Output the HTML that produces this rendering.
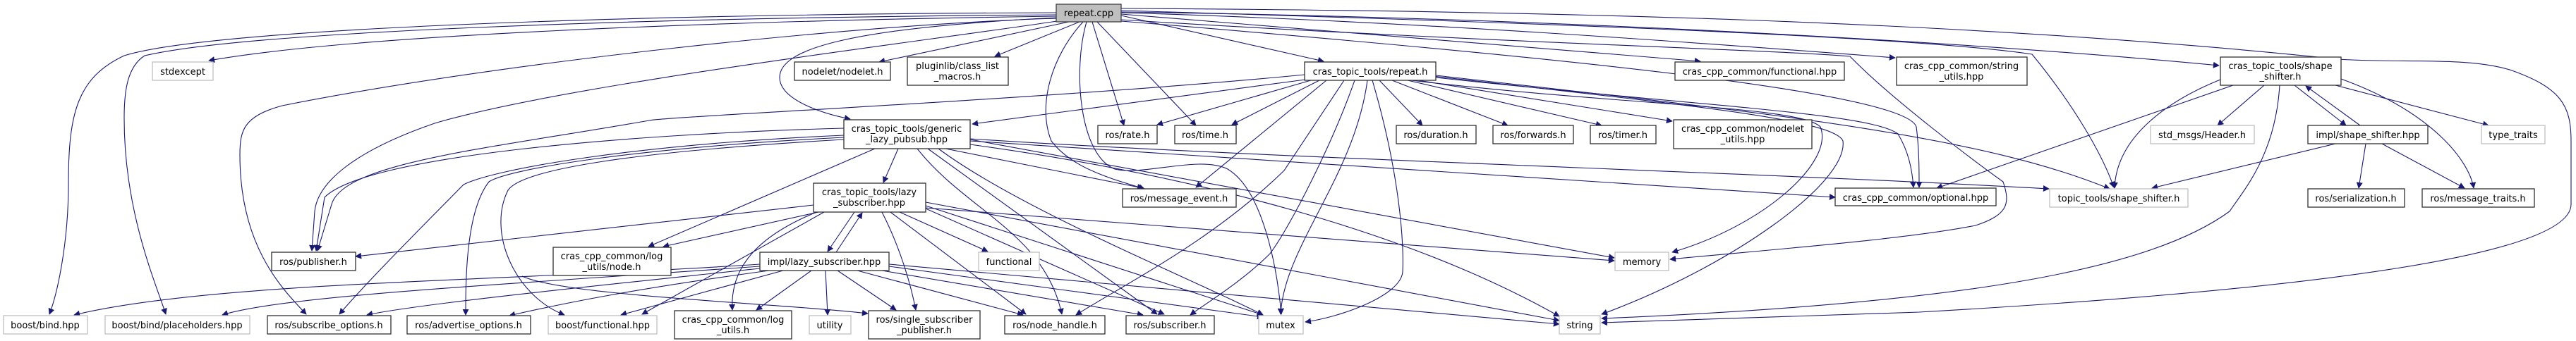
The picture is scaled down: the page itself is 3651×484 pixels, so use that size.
<!DOCTYPE html>
<html><head><meta charset="utf-8"><style>
html,body{margin:0;padding:0;background:#fff;}
svg{display:block;}
text{font-family:"DejaVu Sans","Liberation Sans",sans-serif;font-size:13px;fill:#000;}
.e{fill:none;stroke:#191970;stroke-width:1.1;}
.n{fill:#fff;stroke:#303030;stroke-width:1.3;}
.g{fill:#fff;stroke:#bfbfbf;stroke-width:1.3;}
</style></head><body>
<svg width="3651" height="484" viewBox="0 0 3651 484" xmlns="http://www.w3.org/2000/svg">
<defs><marker id="a" viewBox="0 0 10 10" refX="9" refY="5" markerWidth="9" markerHeight="9" markerUnits="userSpaceOnUse" orient="auto"><path d="M0,0 L10,5 L0,10 z" fill="#191970"/></marker></defs>
<g marker-end="url(#a)">
<!-- repeat.cpp -->
<path class="e" d="M1498,18 C900,20 300,40 176,79 C110,110 97,160 97,260 C97,350 80,420 70,446"/>
<path class="e" d="M1498,21 C900,25 350,45 205,79 C180,95 176,130 176,168 C176,300 220,400 235,446"/>
<path class="e" d="M1498,23 C1000,30 500,50 296,86"/>
<path class="e" d="M1498,26 C1200,35 700,90 400,150 C345,165 340,185 340,220 C340,350 400,410 434,446"/>
<path class="e" d="M1498,30 C1300,60 800,120 616,175 C500,215 450,260 446,300 L442,356"/>
<path class="e" d="M1498,25 C1200,40 1105,70 1105,110 C1105,140 1160,160 1205,169"/>
<path class="e" d="M1515,31 L1246,88"/>
<path class="e" d="M1530,31 L1410,80"/>
<path class="e" d="M1548,31 L1593,178"/>
<path class="e" d="M1555,31 L1695,178"/>
<path class="e" d="M1535,31 C1490,80 1470,150 1490,200 C1520,240 1580,255 1622,268"/>
<path class="e" d="M1540,31 C1520,100 1530,220 1580,240 C1620,250 1700,220 1740,240 C1790,270 1810,380 1816,446"/>
<path class="e" d="M1589,22 L1876,87"/>
<path class="e" d="M1589,20 L2410,87"/>
<path class="e" d="M1589,18 C2000,30 2400,60 2686,82"/>
<path class="e" d="M1589,17 C2200,25 2800,60 3145,93"/>
<path class="e" d="M1589,12 C2200,15 2800,30 3314,84 C3400,90 3500,80 3560,100 C3630,125 3644,150 3644,200 L3644,290 C3644,360 3300,410 2720,443 L2270,458"/>
<path class="e" d="M1589,15 C2100,30 2700,50 2880,77 C2940,150 2980,220 2996,266"/>
<path class="e" d="M1589,28 C2100,60 2500,70 2622,80 C2680,140 2800,230 2839,258 C2850,290 2845,305 2800,320 C2700,340 2500,355 2367,368"/>
<path class="e" d="M1589,30 C2200,80 2700,130 2716,180 C2720,210 2720,240 2720,266"/>
<!-- repeat.h -->
<path class="e" d="M1850,113 L1378,176"/>
<path class="e" d="M1849,106 C1500,140 950,165 920,171 C700,210 487,230 470,290 L450,356"/>
<path class="e" d="M1858,114 L1640,177"/>
<path class="e" d="M1870,114 L1746,177"/>
<path class="e" d="M1880,114 L1695,266"/>
<path class="e" d="M1905,114 L1820,242 C1720,340 1600,400 1525,447"/>
<path class="e" d="M1920,114 C1890,200 1830,320 1800,360 C1760,400 1710,430 1687,447"/>
<path class="e" d="M1938,114 C1920,250 1820,350 1815,446"/>
<path class="e" d="M1945,114 C1985,250 1990,350 1988,386 C1985,420 1900,450 1850,457"/>
<path class="e" d="M1955,114 L2016,178"/>
<path class="e" d="M1973,114 L2137,178"/>
<path class="e" d="M1995,114 L2270,178"/>
<path class="e" d="M2010,114 L2370,172"/>
<path class="e" d="M2000,114 C2300,150 2550,150 2580,180 C2600,230 2500,320 2370,358"/>
<path class="e" d="M2030,108 C2400,150 2600,170 2612,200 C2620,260 2450,380 2270,446"/>
<path class="e" d="M2035,110 C2400,150 2650,160 2690,190 C2705,215 2710,240 2712,266"/>
<path class="e" d="M2035,107 C2500,160 2800,190 2990,268"/>
<!-- generic -->
<path class="e" d="M1273,211 L1252,259"/>
<path class="e" d="M1196,182 C900,190 520,220 460,280 L448,356"/>
<path class="e" d="M1196,192 C900,205 700,240 657,262 C600,320 520,400 481,446"/>
<path class="e" d="M1196,195 C900,210 720,240 693,258 C660,300 660,400 660,447"/>
<path class="e" d="M1196,198 C900,215 740,240 720,270 C690,330 730,420 800,447"/>
<path class="e" d="M1240,211 L919,350"/>
<path class="e" d="M1340,211 L1620,267"/>
<path class="e" d="M1300,211 C1370,300 1480,330 1505,446"/>
<path class="e" d="M1315,211 L1640,446"/>
<path class="e" d="M1330,211 C1450,300 1700,400 1790,447"/>
<path class="e" d="M1375,205 C1700,250 2000,330 2210,449"/>
<path class="e" d="M1375,198 L2288,366"/>
<path class="e" d="M1375,200 L2601,280"/>
<path class="e" d="M1375,197 C1800,225 2500,245 2904,268"/>
<!-- lazy_subscriber -->
<path class="e" d="M1153,291 L504,364"/>
<path class="e" d="M1160,301 L940,350"/>
<path class="e" d="M1211,301 L1173,357"/>
<path class="e" d="M1185,358 L1222,302"/>
<path class="e" d="M1160,300 C1060,340 1035,390 1038,440"/>
<path class="e" d="M1275,301 L1400,357"/>
<path class="e" d="M1250,301 C1275,350 1290,400 1298,440"/>
<path class="e" d="M1262,301 L1454,446"/>
<path class="e" d="M1312,296 L1650,446"/>
<path class="e" d="M1312,292 L1790,447"/>
<path class="e" d="M1312,287 L2210,455"/>
<path class="e" d="M1312,295 L2288,370"/>
<path class="e" d="M1168,301 L910,446"/>
<!-- impl/lazy_subscriber -->
<path class="e" d="M1077,375 C700,400 300,400 105,447"/>
<path class="e" d="M1077,378 C700,405 400,420 315,447"/>
<path class="e" d="M1077,381 C900,400 600,430 520,447"/>
<path class="e" d="M1090,384 C900,410 800,430 722,448"/>
<path class="e" d="M1110,384 L880,447"/>
<path class="e" d="M1150,384 L1072,440"/>
<path class="e" d="M1170,384 L1173,447"/>
<path class="e" d="M1187,384 L1270,440"/>
<path class="e" d="M1215,384 L1450,447"/>
<path class="e" d="M1250,384 L1620,447"/>
<path class="e" d="M1260,378 L1790,450"/>
<path class="e" d="M1260,375 L2210,460"/>
<path class="e" d="M740,392 C800,420 1100,430 1230,445"/>
<!-- shape_shifter.h -->
<path class="e" d="M3165,121 L2745,267"/>
<path class="e" d="M3147,113 C3080,140 3000,190 2997,267"/>
<path class="e" d="M3209,121 L3143,178"/>
<path class="e" d="M3252,121 L3325,178"/>
<path class="e" d="M3345,178 L3268,122"/>
<path class="e" d="M3310,121 L3527,178"/>
<path class="e" d="M3318,112 C3450,160 3500,230 3506,267"/>
<path class="e" d="M3231,121 C3225,220 3180,270 3160,300 C3050,380 2800,430 2270,452"/>
<!-- impl/shape_shifter -->
<path class="e" d="M3310,204 L3050,267"/>
<path class="e" d="M3353,204 L3343,267"/>
<path class="e" d="M3376,204 L3493,267"/>
</g>
<!-- nodes -->
<rect x="1497" y="6" width="92" height="25" fill="#bfbfbf" stroke="#404040" stroke-width="1.3"/>
<text x="1543" y="23" text-anchor="middle">repeat.cpp</text>

<rect class="g" x="216" y="88" width="86" height="26"/><text x="259" y="106" text-anchor="middle">stdexcept</text>
<rect class="n" x="1126" y="88" width="136" height="26"/><text x="1194" y="106" text-anchor="middle">nodelet/nodelet.h</text>
<rect class="n" x="1286" y="81" width="143" height="40"/><text x="1357" y="98" text-anchor="middle">pluginlib/class_list</text><text x="1357" y="113" text-anchor="middle">_macros.h</text>
<rect class="n" x="1849" y="88" width="186" height="26"/><text x="1942" y="106" text-anchor="middle">cras_topic_tools/repeat.h</text>
<rect class="n" x="2374" y="88" width="240" height="26"/><text x="2494" y="106" text-anchor="middle">cras_cpp_common/functional.hpp</text>
<rect class="n" x="2688" y="81" width="185" height="40"/><text x="2780" y="98" text-anchor="middle">cras_cpp_common/string</text><text x="2780" y="113" text-anchor="middle">_utils.hpp</text>
<rect class="n" x="3147" y="81" width="171" height="40"/><text x="3232" y="98" text-anchor="middle">cras_topic_tools/shape</text><text x="3232" y="113" text-anchor="middle">_shifter.h</text>

<rect class="n" x="1196" y="170" width="179" height="41"/><text x="1285" y="187" text-anchor="middle">cras_topic_tools/generic</text><text x="1285" y="202" text-anchor="middle">_lazy_pubsub.hpp</text>
<rect class="n" x="1556" y="178" width="84" height="26"/><text x="1598" y="196" text-anchor="middle">ros/rate.h</text>
<rect class="n" x="1665" y="178" width="87" height="26"/><text x="1708" y="196" text-anchor="middle">ros/time.h</text>
<rect class="n" x="1979" y="178" width="113" height="26"/><text x="2035" y="196" text-anchor="middle">ros/duration.h</text>
<rect class="n" x="2116" y="178" width="114" height="26"/><text x="2173" y="196" text-anchor="middle">ros/forwards.h</text>
<rect class="n" x="2254" y="178" width="93" height="26"/><text x="2300" y="196" text-anchor="middle">ros/timer.h</text>
<rect class="n" x="2372" y="170" width="196" height="41"/><text x="2470" y="187" text-anchor="middle">cras_cpp_common/nodelet</text><text x="2470" y="202" text-anchor="middle">_utils.hpp</text>
<rect class="g" x="3048" y="178" width="147" height="26"/><text x="3121" y="196" text-anchor="middle">std_msgs/Header.h</text>
<rect class="n" x="3271" y="178" width="170" height="26"/><text x="3356" y="196" text-anchor="middle">impl/shape_shifter.hpp</text>
<rect class="g" x="3517" y="178" width="90" height="26"/><text x="3562" y="196" text-anchor="middle">type_traits</text>

<rect class="n" x="1153" y="260" width="159" height="41"/><text x="1232" y="277" text-anchor="middle">cras_topic_tools/lazy</text><text x="1232" y="292" text-anchor="middle">_subscriber.hpp</text>
<rect class="n" x="1591" y="268" width="161" height="26"/><text x="1671" y="286" text-anchor="middle">ros/message_event.h</text>
<rect class="n" x="2601" y="267" width="228" height="25"/><text x="2715" y="285" text-anchor="middle">cras_cpp_common/optional.hpp</text>
<rect class="g" x="2905" y="268" width="196" height="26"/><text x="3003" y="286" text-anchor="middle">topic_tools/shape_shifter.h</text>
<rect class="n" x="3271" y="268" width="137" height="26"/><text x="3339" y="286" text-anchor="middle">ros/serialization.h</text>
<rect class="n" x="3433" y="268" width="159" height="26"/><text x="3512" y="286" text-anchor="middle">ros/message_traits.h</text>

<rect class="n" x="385" y="358" width="119" height="26"/><text x="444" y="376" text-anchor="middle">ros/publisher.h</text>
<rect class="n" x="784" y="351" width="167" height="40"/><text x="867" y="368" text-anchor="middle">cras_cpp_common/log</text><text x="867" y="383" text-anchor="middle">_utils/node.h</text>
<rect class="n" x="1077" y="358" width="183" height="26"/><text x="1168" y="376" text-anchor="middle">impl/lazy_subscriber.hpp</text>
<rect class="g" x="1387" y="358" width="86" height="26"/><text x="1430" y="376" text-anchor="middle">functional</text>
<rect class="g" x="2289" y="358" width="76" height="26"/><text x="2327" y="376" text-anchor="middle">memory</text>

<rect class="g" x="5" y="448" width="119" height="26"/><text x="64" y="466" text-anchor="middle">boost/bind.hpp</text>
<rect class="g" x="149" y="448" width="205" height="26"/><text x="251" y="466" text-anchor="middle">boost/bind/placeholders.hpp</text>
<rect class="n" x="379" y="448" width="175" height="26"/><text x="466" y="466" text-anchor="middle">ros/subscribe_options.h</text>
<rect class="n" x="577" y="448" width="175" height="26"/><text x="664" y="466" text-anchor="middle">ros/advertise_options.h</text>
<rect class="g" x="777" y="448" width="154" height="26"/><text x="854" y="466" text-anchor="middle">boost/functional.hpp</text>
<rect class="n" x="956" y="441" width="166" height="40"/><text x="1039" y="458" text-anchor="middle">cras_cpp_common/log</text><text x="1039" y="473" text-anchor="middle">_utils.h</text>
<rect class="g" x="1147" y="448" width="59" height="26"/><text x="1176" y="466" text-anchor="middle">utility</text>
<rect class="n" x="1231" y="441" width="158" height="40"/><text x="1310" y="458" text-anchor="middle">ros/single_subscriber</text><text x="1310" y="473" text-anchor="middle">_publisher.h</text>
<rect class="n" x="1424" y="448" width="142" height="26"/><text x="1495" y="466" text-anchor="middle">ros/node_handle.h</text>
<rect class="n" x="1596" y="448" width="125" height="26"/><text x="1658" y="466" text-anchor="middle">ros/subscriber.h</text>
<rect class="g" x="1784" y="448" width="63" height="26"/><text x="1815" y="466" text-anchor="middle">mutex</text>
<rect class="g" x="2210" y="448" width="58" height="26"/><text x="2239" y="466" text-anchor="middle">string</text>
</svg>
</body></html>
